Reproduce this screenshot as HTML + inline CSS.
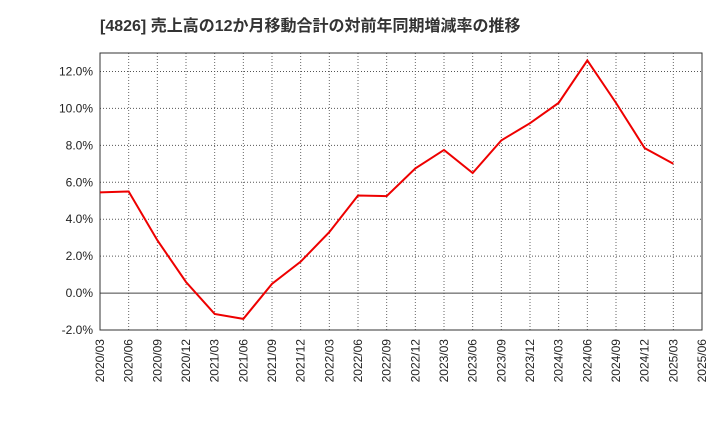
<!DOCTYPE html>
<html><head><meta charset="utf-8"><style>
body{margin:0;background:#fff;font-family:"Liberation Sans","Noto Sans CJK JP",sans-serif}
svg text{font-family:"Liberation Sans","Noto Sans CJK JP",sans-serif}
</style></head><body>
<svg id="c" width="720" height="440" xmlns="http://www.w3.org/2000/svg">
<text x="100" y="31" font-size="16" font-weight="bold" fill="#333">[4826]  売上高の12か月移動合計の対前年同期増減率の推移</text>
<g id="grid"></g><g id="axes"></g><g id="series"></g>
</svg>
<script>
const categories=["2020/03","2020/06","2020/09","2020/12","2021/03","2021/06","2021/09","2021/12","2022/03","2022/06","2022/09","2022/12","2023/03","2023/06","2023/09","2023/12","2024/03","2024/06","2024/09","2024/12","2025/03","2025/06"];
const values=[5.45,5.5,2.86,0.6,-1.13,-1.4,0.5,1.7,3.3,5.28,5.25,6.75,7.75,6.5,8.27,9.2,10.3,12.6,10.3,7.85,7.0];
const yTicks=[-2,0,2,4,6,8,10,12];
const yTickLabels=["-2.0%","0.0%","2.0%","4.0%","6.0%","8.0%","10.0%","12.0%"];
const L=100,R=702,T=53,B=330,yMin=-2,yMax=13;
const ns="http://www.w3.org/2000/svg";
const xs=i=>L+(R-L)*i/(categories.length-1);
const ys=v=>B-(v-yMin)/(yMax-yMin)*(B-T);
function mk(p,t,a){const e=document.createElementNS(ns,t);for(const k in a)e.setAttribute(k,a[k]);p.appendChild(e);return e;}
const g=document.getElementById('grid'),ax=document.getElementById('axes'),se=document.getElementById('series');
categories.forEach((c,i)=>{
 const x=xs(i);
 const l=mk(g,'line',{x1:x,x2:x,y1:T,y2:B,stroke:'#666','stroke-dasharray':'1,2','stroke-width':1});
 
 
 const t=mk(ax,'text',{x:0,y:0,'font-size':12,fill:'#222','text-anchor':'end',transform:`translate(${x+4},${B+9}) rotate(-90)`});
 t.textContent=c;
 
 
});
yTicks.forEach((v,i)=>{
 const y=ys(v);
 const l=mk(g,'line',{x1:L,x2:R,y1:y,y2:y,stroke:v===0?'#444':'#555','stroke-dasharray':v===0?'':'1,2','stroke-width':1});
 
 
 const t=mk(ax,'text',{x:L-7,y:y+4,'font-size':12,fill:'#222','text-anchor':'end'});
 t.textContent=yTickLabels[i];
 
 
});
const fr=mk(ax,'rect',{x:L,y:T,width:R-L,height:B-T,fill:'none',stroke:'#333'});


const pl=mk(se,'polyline',{points:values.map((v,i)=>xs(i)+','+ys(v)).join(' '),fill:'none',stroke:'#e00',"stroke-width":2});


</script>
</body></html>
